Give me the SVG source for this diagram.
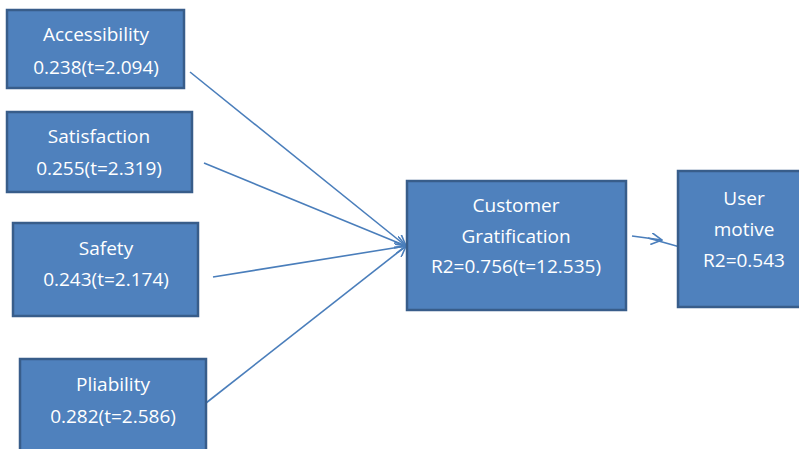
<svg xmlns="http://www.w3.org/2000/svg" width="799" height="449" viewBox="0 0 799 449">
<defs>
<style>
.box{fill:#4f81bd;stroke:#385d8a;stroke-width:2.5}
.t{font-family:"Open Sans","Liberation Sans",Arial,sans-serif;font-size:19px;fill:#ffffff;text-anchor:middle}
.c{stroke:#4a7ebb;stroke-width:1.6;fill:none}
</style>
<marker id="arr" viewBox="0 0 12 12" refX="11" refY="6" markerWidth="12" markerHeight="12" markerUnits="userSpaceOnUse" orient="auto">
<path d="M0,0 L11,6 L0,12" fill="none" stroke="#4a7ebb" stroke-width="1.6"/>
</marker>
</defs>
<rect width="799" height="449" fill="#ffffff"/>
<g id="connectors">
<line class="c" x1="190" y1="72" x2="406" y2="246" marker-end="url(#arr)"/>
<line class="c" x1="204" y1="163" x2="406" y2="246" marker-end="url(#arr)"/>
<line class="c" x1="213" y1="277" x2="406" y2="246" marker-end="url(#arr)"/>
<line class="c" x1="206" y1="403" x2="406" y2="246" marker-end="url(#arr)"/>
<line class="c" x1="632" y1="236" x2="662" y2="240" marker-end="url(#arr)"/>
<line class="c" x1="648" y1="238" x2="680" y2="247"/>
</g>
<g id="accessibility">
<rect class="box" x="7" y="10" width="177" height="78"/>
<text class="t" x="96" y="41">Accessibility</text>
<text class="t" x="96" y="74">0.238(t=2.094)</text>
</g>
<g id="satisfaction">
<rect class="box" x="7" y="112" width="185" height="80"/>
<text class="t" x="99" y="143">Satisfaction</text>
<text class="t" x="99" y="175">0.255(t=2.319)</text>
</g>
<g id="safety">
<rect class="box" x="13" y="223" width="185" height="93"/>
<text class="t" x="106" y="255">Safety</text>
<text class="t" x="106" y="286">0.243(t=2.174)</text>
</g>
<g id="pliability">
<rect class="box" x="20" y="359" width="186" height="95"/>
<text class="t" x="113" y="391">Pliability</text>
<text class="t" x="113" y="423">0.282(t=2.586)</text>
</g>
<g id="customer-gratification">
<rect class="box" x="407" y="181" width="219" height="129"/>
<text class="t" x="516" y="212">Customer</text>
<text class="t" x="516" y="243">Gratification</text>
<text class="t" x="516" y="273">R2=0.756(t=12.535)</text>
</g>
<g id="user-motive">
<rect class="box" x="678" y="171" width="130" height="136"/>
<text class="t" x="744" y="205">User</text>
<text class="t" x="744" y="236">motive</text>
<text class="t" x="744" y="267">R2=0.543</text>
</g>
</svg>
